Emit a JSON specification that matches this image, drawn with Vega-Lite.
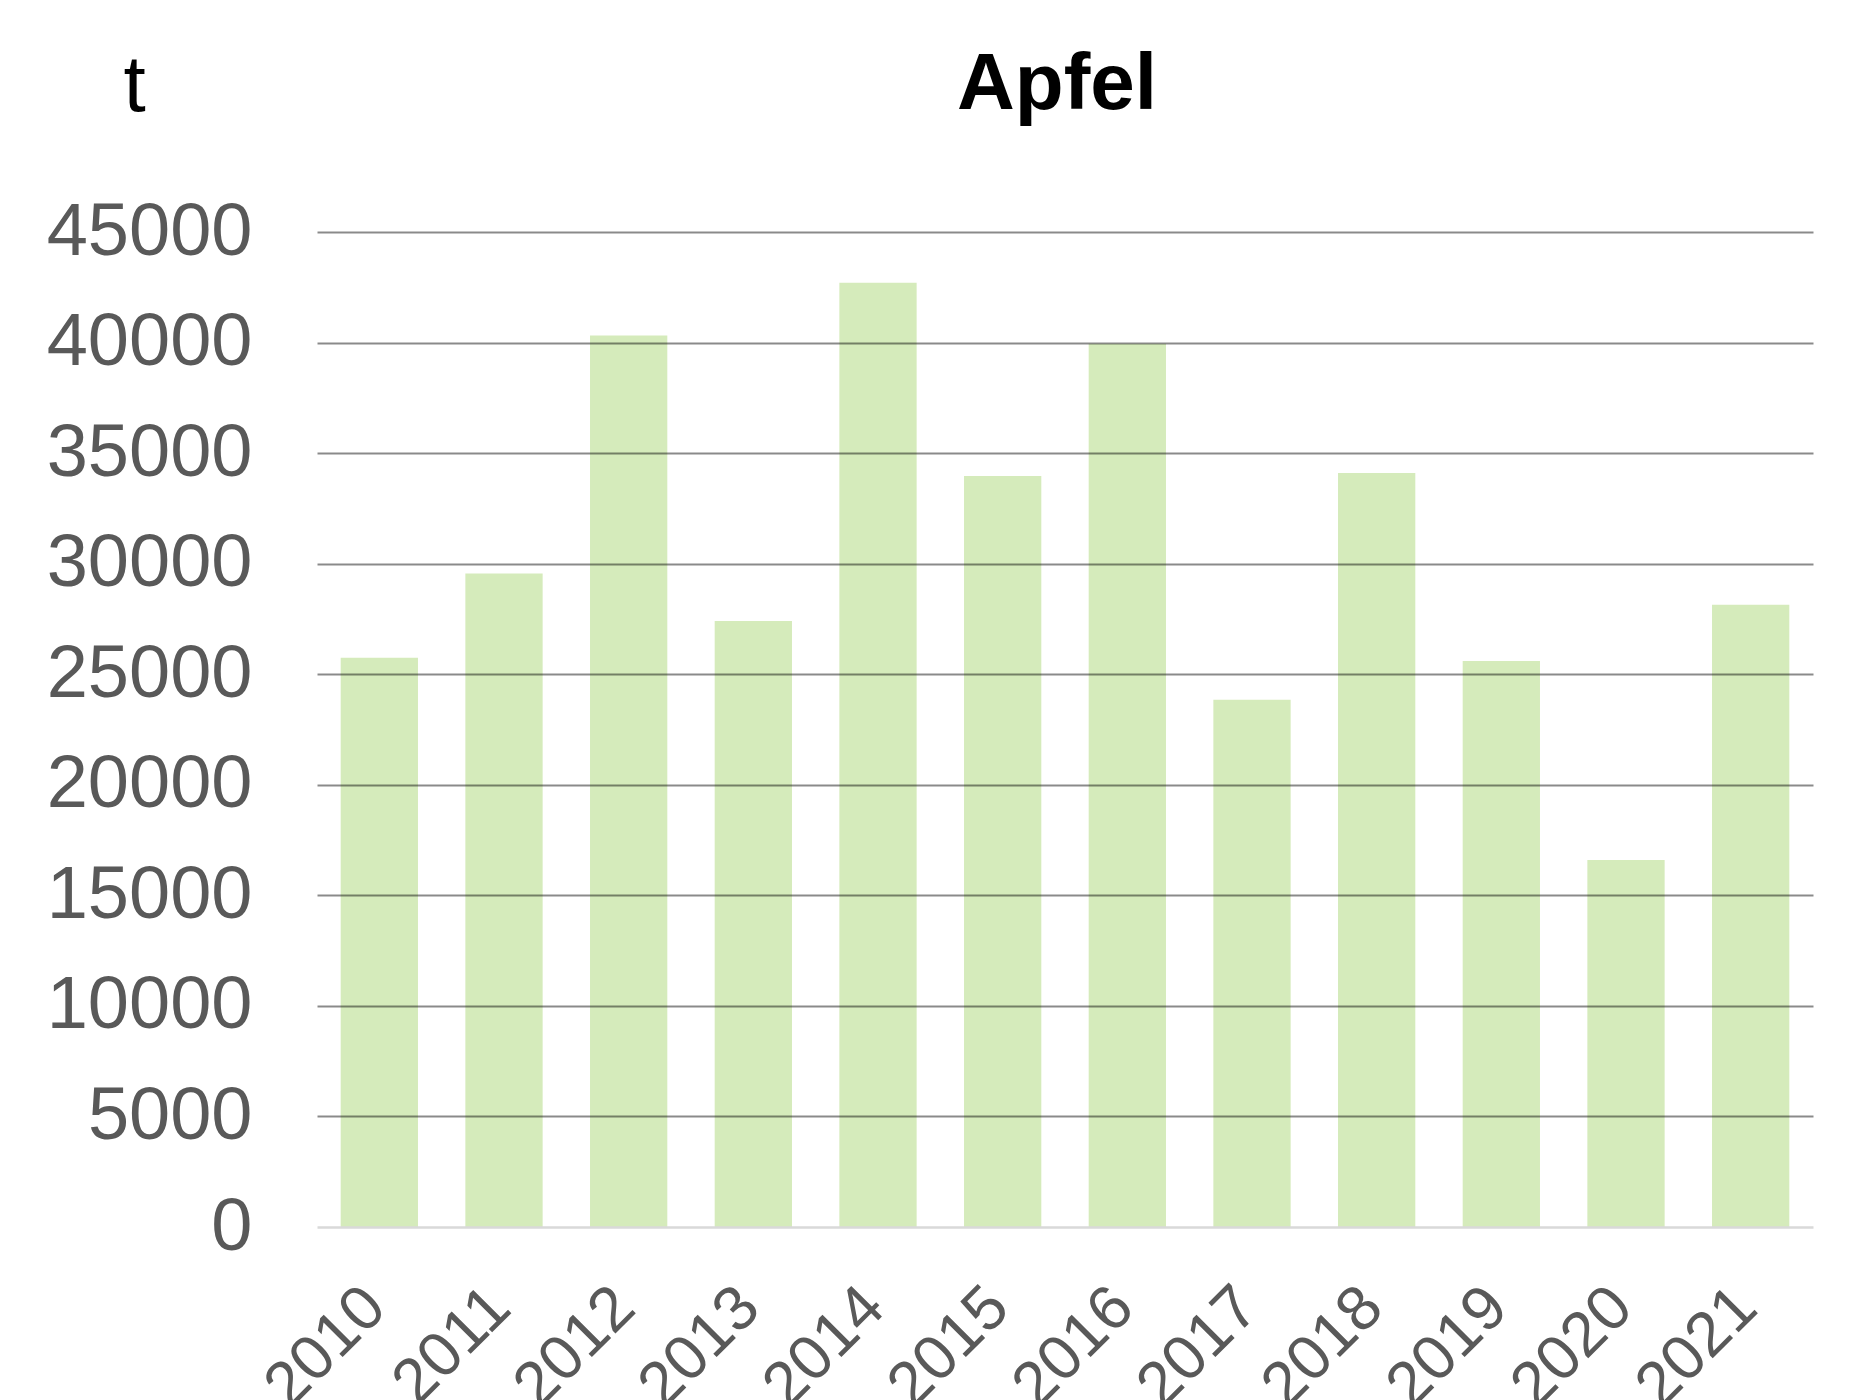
{
  "$schema": "https://vega.github.io/schema/vega-lite/v6.json",
  "width": 1496,
  "height": 995,
  "autosize": "none",
  "padding": {"left": 317, "top": 232, "right": 44, "bottom": 173},
  "background": "white",
  "config": {"view": {"stroke": null}, "font": "Liberation Sans"},
  "title": {
    "text": "Apfel",
    "fontSize": 80,
    "fontWeight": "bold",
    "font": "Liberation Sans",
    "color": "#000000",
    "frame": "group",
    "anchor": "middle",
    "baseline": "alphabetic",
    "offset": -143,
    "dx": -8
  },
  "data": {
    "values": [
      {"Jahr": "2010", "t": 25750},
      {"Jahr": "2011", "t": 29550},
      {"Jahr": "2012", "t": 40320},
      {"Jahr": "2013", "t": 27410},
      {"Jahr": "2014", "t": 42700},
      {"Jahr": "2015", "t": 33970},
      {"Jahr": "2016", "t": 39950},
      {"Jahr": "2017", "t": 23840},
      {"Jahr": "2018", "t": 34100},
      {"Jahr": "2019", "t": 25600},
      {"Jahr": "2020", "t": 16600},
      {"Jahr": "2021", "t": 28140}
    ]
  },
  "mark": {"type": "bar", "color": "#d5ebbb"},
  "encoding": {
    "x": {
      "field": "Jahr",
      "type": "ordinal",
      "scale": {"paddingInner": 0.38, "paddingOuter": 0.19},
      "axis": {
        "title": null,
        "labelAngle": -45,
        "labelAlign": "right",
        "labelBaseline": "middle",
        "labelFontSize": 63,
        "labelFont": "Liberation Sans",
        "labelColor": "#595959",
        "labelPadding": 70,
        "labelOffset": -4,
        "labelLimit": 0,
        "ticks": false,
        "domainColor": "#d9d9d9",
        "domainWidth": 2.5,
        "grid": false,
        "zindex": 2
      }
    },
    "y": {
      "field": "t",
      "type": "quantitative",
      "scale": {"domain": [0, 45000], "nice": false},
      "axis": {
        "title": "t",
        "titleAngle": 0,
        "titleX": -194,
        "titleY": -122,
        "titleAlign": "left",
        "titleBaseline": "alphabetic",
        "titleFontSize": 80,
        "titleFontWeight": "normal",
        "titleFont": "Liberation Sans",
        "titleColor": "#000000",
        "values": [0, 5000, 10000, 15000, 20000, 25000, 30000, 35000, 40000, 45000],
        "format": "d",
        "labelFontSize": 74,
        "labelFont": "Liberation Sans",
        "labelColor": "#595959",
        "labelPadding": 65,
        "labelLimit": 0,
        "ticks": false,
        "domain": false,
        "grid": true,
        "gridColor": "#000000",
        "gridOpacity": {"condition": {"test": "datum.value === 0", "value": 0}, "value": 0.46},
        "gridWidth": 2,
        "zindex": 1
      }
    }
  }
}
